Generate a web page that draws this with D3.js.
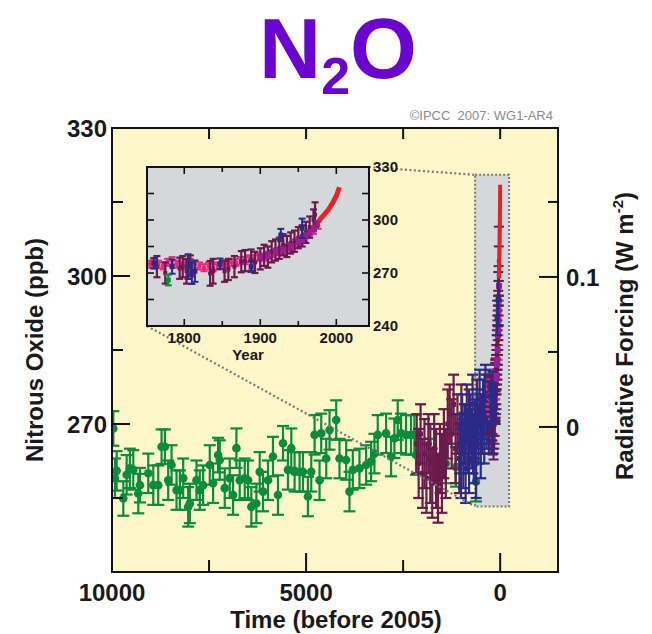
<!DOCTYPE html>
<html><head><meta charset="utf-8">
<script src="https://cdn.jsdelivr.net/npm/d3@7"></script>
<style>body{margin:0;background:#fff} text{font-family:"Liberation Sans",Arial,Helvetica,sans-serif}</style>
</head><body><svg id="c" width="652" height="634"></svg>
<script>
// ---------- DATA ----------
// Main panel: ice-core data, years before 2005
const greenTime = [9966,9923,9880,9709,9623,9540,9452,9323,9280,9066,8937,8809,8723,8637,8552,8466,8338,8252,8166,8038,7995,7823,7738,7652,7481,7395,7266,7224,7095,6967,6881,6795,6710,6581,6495,6410,6281,6195,6110,5981,5853,5724,5595,5467,5381,5296,5167,5081,4953,4867,4781,4653,4610,4481,4396,4224,4139,3967,3882,3796,3625,3453,3325,3239,3154,2939,2811,2725,2639,2554,2425,2296,2211,2168,1800,1400,1140,625];
const greenN2O  = [269.1,259.0,260.5,254.9,259.7,261.0,260.7,255.9,257.6,260.0,257.6,257.6,265.4,265.4,258.6,261.7,256.6,256.6,259.0,253.2,253.9,258.6,256.6,257.6,261.7,258.0,263.7,262.7,257.0,259.0,255.6,265.1,258.6,259.0,258.6,253.2,253.9,260.3,256.3,258.6,263.4,255.6,266.1,260.7,265.1,260.3,260.3,260.3,255.3,260.3,267.8,258.6,268.1,263.0,268.8,270.8,263.0,262.7,256.3,260.7,261.0,261.7,262.4,264.0,267.8,268.1,263.4,267.1,270.8,268.1,267.8,267.8,267.8,263.7,263.0,262.0,261.3,258.3];
const greenErr  = [3.5,4,4,3.5,4,4,4,4,3.5,4,4,4,3.5,3.5,4,4,4,4,4,4,4,4,4,4,4,4,3.5,4,4,4,4,4,4,4,4,4,4,4,4,4,4,4,3.5,4,4,4,4,4,4,4,4,4,4,4,4,4,4,4,4,4,4,4,4,4,4,4,4,4,4,4,4,4,4,4,4,4,4,4];

const maroonOldTime = [2150,2100,2050,2000,1950,1900,1850,1800,1750,1700,1650,1600,1550,1500,1450,1400,1350,1300,1250,1200,1150,1100,1050,1000,900,800,700,600,500,400,300];
const maroonOldN2O  = [266,262,268,260,264,259,266,262,258,265,261,257,263,260,266,262,270,272,268,274,265,270,263,272,268,271,266,273,270,274,272];
const maroonOldErr  = [6,7,6,7,7,7,6,8,7,7,8,7,7,8,7,7,7,6,7,6,7,6,7,6,6,6,6,6,6,6,6];

const blueOldTime = [1040,1010,980,950,920,890,860,830,800,770,740,710,680,650,620,590,560,530,500,470,440,410,380,350,320,290,270];
const blueOldN2O  = [266,262,270,264,268,261,272,266,263,270,267,274,265,269,262,271,268,275,266,270,273,268,276,271,274,270,276];
const blueOldErr  = [6,7,6,7,6,7,6,6,7,6,6,6,7,6,7,6,6,6,7,6,6,6,6,6,6,6,5];

// Inset: calendar years
const pinkYear = [1755,1760,1766,1772,1778,1784,1790,1796,1802,1808,1814,1820,1826,1832,1838,1844,1850,1856,1862,1868,1874,1880,1886,1892,1898,1904,1910,1916,1922,1928,1934,1940,1946,1952,1958,1964,1970,1976];
const pinkN2O  = [275,276,275,274,276,277,275,274,275,276,275,274,273,274,273,274,275,275,276,276,277,277,278,278,279,279,280,281,282,283,284,285,287,288,290,292,294,297];

const maroonYear = [1764,1775,1794,1798,1803,1808,1834,1838,1853,1858,1866,1875,1880,1888,1893,1900,1905,1910,1915,1920,1925,1930,1935,1940,1945,1950,1955,1960,1965,1970,1972];
const maroonN2O  = [273.6,270,272.7,273.6,271,274,269.8,271,271,272,273.6,276.4,277,277.3,276,278,280,279,282,283,284,286,285,287,288,290,291,293,296,300,303];
const maroonErr  = [6,6,6,6,7,6,7,7,6,6,6,6,6,6,6,6,6,6,6,6,6,6,6,6,6,6,6,6,6,6,7];

const purpleYear = [1900,1910,1920,1930,1940,1950,1955,1960,1965,1970,1975];
const purpleN2O  = [279,280,282,283,285,288,289,291,293,295,298];

const blueYear = [1760,1784,1805,1810,1814,1847,1888,1927,1955];
const blueN2O  = [275.5,273.6,273.6,269.8,271,275.2,273.6,291.5,295.3];
const blueErr  = [3,4,7,6,6,3,3,3.5,5.5];

const greenInsetYear = [1779];
const greenInsetN2O  = [266];
const greenInsetErr  = [3];

const redYear = [1977,1980,1983,1986,1989,1992,1995,1998,2001,2004];
const redN2O  = [299.5,301,302.5,304,305.5,307.5,309.5,312,314.5,318.5];

const mainTicksX = [10000,5000,0];
const mainMinorX = [7500,2500];
const leftTickLabels = [270,300,330];
const leftMinor = [255,285,315];
const rightTickLabels = [0,0.1];
const rightMinor = [0.05,0.15];
const insetXLabels = [1800,1900,2000];
const insetXMinor = [1850,1950];
const insetYLabels = [240,270,300,330];
const insetYMinor = [255,285,315];

// ---------- COLOURS ----------
const C = {green:"#0a8c3c", maroon:"#6a1a4c", blue:"#2a2a88", pink:"#e8297f", purple:"#962090", red:"#e8202c",
           bg:"#fdf6c9", gray:"#d4d8d8", title:"#6a04d0"};

const svg = d3.select("#c");

// ---------- TITLE ----------
const title = svg.append("text").attr("x",338).attr("y",78).attr("text-anchor","middle")
  .attr("font-size",86).attr("font-weight","bold").attr("fill",C.title);
title.append("tspan").text("N");
title.append("tspan").attr("font-size",52).attr("dy",16).text("2");
title.append("tspan").attr("dy",-16).text("O");

svg.append("text").attr("x",553).attr("y",120).attr("text-anchor","end").attr("font-size",13)
  .attr("fill","#8a8a8a").text("©IPCC\u00a0\u00a02007: WG1-AR4");

// ---------- MAIN SCALES ----------
const L=112, R=558, T=128, B=572;
const x = d3.scaleLinear().domain([10000,-1490]).range([L,R]);
const y = d3.scaleLinear().domain([240,330]).range([B,T]);
const yR = d3.scaleLinear().domain([-0.0967,0.1993]).range([B,T]);

svg.append("rect").attr("x",L).attr("y",T).attr("width",R-L).attr("height",B-T).attr("fill",C.bg);

// zoom rectangle in main panel (region shown in inset)
const zr = {t0:645, t1:-230, v0:253.3, v1:320.5};
svg.append("rect").attr("x",x(zr.t0)).attr("y",y(zr.v1)).attr("width",x(zr.t1)-x(zr.t0)).attr("height",y(zr.v0)-y(zr.v1))
  .attr("fill",C.gray).attr("stroke","#7a7a7a").attr("stroke-width",2).attr("stroke-dasharray","2,2");

svg.append("clipPath").attr("id","mclip").append("rect").attr("x",L).attr("y",T).attr("width",R-L).attr("height",B-T);
const gm = svg.append("g").attr("clip-path","url(#mclip)");

function errBars(g, xs, vs, es, xsc, ysc, color, capW, r, sw, shape){
  const d = xs.map((xv,i)=>({x:xsc(xv), v:vs[i], e:es?es[i]:0}));
  const gg = g.append("g").attr("stroke",color).attr("fill",color).attr("stroke-width",sw);
  if(es){
    gg.selectAll(".v").data(d).join("line").attr("x1",p=>p.x).attr("x2",p=>p.x)
      .attr("y1",p=>ysc(p.v-p.e)).attr("y2",p=>ysc(p.v+p.e));
    gg.selectAll(".ct").data(d).join("line").attr("x1",p=>p.x-capW).attr("x2",p=>p.x+capW)
      .attr("y1",p=>ysc(p.v+p.e)).attr("y2",p=>ysc(p.v+p.e));
    gg.selectAll(".cb").data(d).join("line").attr("x1",p=>p.x-capW).attr("x2",p=>p.x+capW)
      .attr("y1",p=>ysc(p.v-p.e)).attr("y2",p=>ysc(p.v-p.e));
  }
  if(shape==="sq"){
    gg.selectAll(".m").data(d).join("rect").attr("stroke","none").attr("x",p=>p.x-r).attr("y",p=>ysc(p.v)-r)
      .attr("width",2*r).attr("height",2*r);
  } else {
    gg.selectAll(".m").data(d).join("circle").attr("stroke","none").attr("cx",p=>p.x).attr("cy",p=>ysc(p.v)).attr("r",r);
  }
}

const tOf = yr => 2005 - yr;
// main panel data
errBars(gm, greenTime, greenN2O, greenErr, x, y, C.green, 6, 4.3, 2.2, "c");
errBars(gm, maroonOldTime, maroonOldN2O, maroonOldErr, x, y, C.maroon, 5.5, 2.5, 2.2, "sq");
errBars(gm, blueOldTime, blueOldN2O, blueOldErr, x, y, C.blue, 5.5, 2.5, 2.2, "sq");
errBars(gm, pinkYear.map(tOf), pinkN2O, pinkN2O.map(()=>2), x, y, C.pink, 5, 2, 2, "sq");
errBars(gm, maroonYear.map(tOf), maroonN2O, maroonErr, x, y, C.maroon, 5, 2, 2, "sq");
errBars(gm, purpleYear.map(tOf), purpleN2O, null, x, y, C.purple, 5, 3, 2, "sq");
errBars(gm, blueYear.map(tOf), blueN2O, blueErr, x, y, C.blue, 5, 2.5, 2, "sq");
gm.append("path").datum(redYear.map((yr,i)=>[tOf(yr),redN2O[i]]))
  .attr("d", d3.line().x(d=>x(d[0])).y(d=>y(d[1]))).attr("stroke",C.red).attr("stroke-width",4).attr("fill","none");

// main frame
svg.append("rect").attr("x",L).attr("y",T).attr("width",R-L).attr("height",B-T).attr("fill","none")
  .attr("stroke","#111").attr("stroke-width",2);

// main axes (ticks inward)
const tk = svg.append("g").attr("stroke","#111").attr("stroke-width",2);
mainTicksX.concat(mainMinorX).forEach(v=>{
  const major = mainTicksX.includes(v);
  if(v!==10000){
    tk.append("line").attr("x1",x(v)).attr("x2",x(v)).attr("y1",B).attr("y2",B-(major?19:12));
    tk.append("line").attr("x1",x(v)).attr("x2",x(v)).attr("y1",T).attr("y2",T+11);
  }
});
leftTickLabels.concat(leftMinor).forEach(v=>{
  if(v===330) return;
  const major = leftTickLabels.includes(v);
  tk.append("line").attr("x1",L).attr("x2",L+(major?18:11)).attr("y1",y(v)).attr("y2",y(v));
});
rightTickLabels.concat(rightMinor).forEach(v=>{
  const major = rightTickLabels.includes(v);
  tk.append("line").attr("x1",R).attr("x2",R-(major?19:10)).attr("y1",yR(v)).attr("y2",yR(v));
});

const lab = svg.append("g").attr("font-size",24).attr("font-weight","bold").attr("fill","#1a1a1a");
mainTicksX.forEach(v=>lab.append("text").attr("x",x(v)).attr("y",601).attr("text-anchor","middle").text(d3.format("d")(v)));
leftTickLabels.forEach(v=>lab.append("text").attr("x",107).attr("y",y(v)).attr("dy","0.36em").attr("text-anchor","end").text(v));
rightTickLabels.forEach(v=>lab.append("text").attr("x",566).attr("y",yR(v)).attr("dy","0.36em").attr("text-anchor","start").text(v));
lab.append("text").attr("x",336).attr("y",628).attr("text-anchor","middle").text("Time (before 2005)");
lab.append("text").attr("transform","translate(43,350) rotate(-90)").attr("text-anchor","middle").text("Nitrous Oxide (ppb)");
const rl = lab.append("text").attr("transform","translate(633,336) rotate(-90)").attr("text-anchor","middle");
rl.append("tspan").text("Radiative Forcing (W m");
rl.append("tspan").attr("font-size",15).attr("dy",-10).text("-2");
rl.append("tspan").attr("dy",10).text(")");

// ---------- INSET ----------
const IL=147, IR=369, IT=167, IB=326;
const xi = d3.scaleLinear().domain([1751,2043]).range([IL,IR]);
const yi = d3.scaleLinear().domain([240,330]).range([IB,IT]);

// dotted connector lines
const dl = svg.append("g").attr("stroke","#777").attr("stroke-width",2.2).attr("stroke-dasharray","2,2.5");
dl.append("line").attr("x1",IR).attr("y1",IT).attr("x2",x(zr.t0)).attr("y2",y(zr.v1));
dl.append("line").attr("x1",IL).attr("y1",IB).attr("x2",x(zr.t0)).attr("y2",y(zr.v0));

svg.append("rect").attr("x",IL).attr("y",IT).attr("width",IR-IL).attr("height",IB-IT).attr("fill",C.gray);
svg.append("clipPath").attr("id","iclip").append("rect").attr("x",IL).attr("y",IT).attr("width",IR-IL).attr("height",IB-IT);
const gi = svg.append("g").attr("clip-path","url(#iclip)");
errBars(gi, pinkYear, pinkN2O, pinkN2O.map(()=>2), xi, yi, C.pink, 3.5, 2, 2, "sq");
errBars(gi, maroonYear, maroonN2O, maroonErr, xi, yi, C.maroon, 3.5, 2, 2.2, "sq");
errBars(gi, purpleYear, purpleN2O, purpleN2O.map(()=>1.5), xi, yi, C.purple, 3, 2.5, 2, "sq");
errBars(gi, blueYear, blueN2O, blueErr, xi, yi, C.blue, 3.5, 2.5, 2, "sq");
errBars(gi, greenInsetYear, greenInsetN2O, greenInsetErr, xi, yi, C.green, 3.5, 2.5, 2, "sq");
gi.append("path").datum(redYear.map((yr,i)=>[yr,redN2O[i]]))
  .attr("d", d3.line().x(d=>xi(d[0])).y(d=>yi(d[1]))).attr("stroke",C.red).attr("stroke-width",5).attr("fill","none");

svg.append("rect").attr("x",IL).attr("y",IT).attr("width",IR-IL).attr("height",IB-IT).attr("fill","none")
  .attr("stroke","#111").attr("stroke-width",2);
const ti = svg.append("g").attr("stroke","#111").attr("stroke-width",1.6);
insetXLabels.concat(insetXMinor).forEach(v=>{
  const len = insetXLabels.includes(v)?7:5;
  ti.append("line").attr("x1",xi(v)).attr("x2",xi(v)).attr("y1",IB).attr("y2",IB-len);
  ti.append("line").attr("x1",xi(v)).attr("x2",xi(v)).attr("y1",IT).attr("y2",IT+len);
});
insetYLabels.concat(insetYMinor).forEach(v=>{
  if(v===240||v===330) return;
  ti.append("line").attr("x1",IL).attr("x2",IL+7).attr("y1",yi(v)).attr("y2",yi(v));
  ti.append("line").attr("x1",IR).attr("x2",IR-7).attr("y1",yi(v)).attr("y2",yi(v));
});
const li = svg.append("g").attr("font-size",15).attr("font-weight","bold").attr("fill","#1a1a1a");
insetXLabels.forEach(v=>li.append("text").attr("x",xi(v)).attr("y",343).attr("text-anchor","middle").text(v));
insetYLabels.forEach(v=>li.append("text").attr("x",373).attr("y",yi(v)).attr("dy","0.36em").text(v));
li.append("text").attr("x",248).attr("y",360).attr("text-anchor","middle").text("Year");
</script></body></html>
